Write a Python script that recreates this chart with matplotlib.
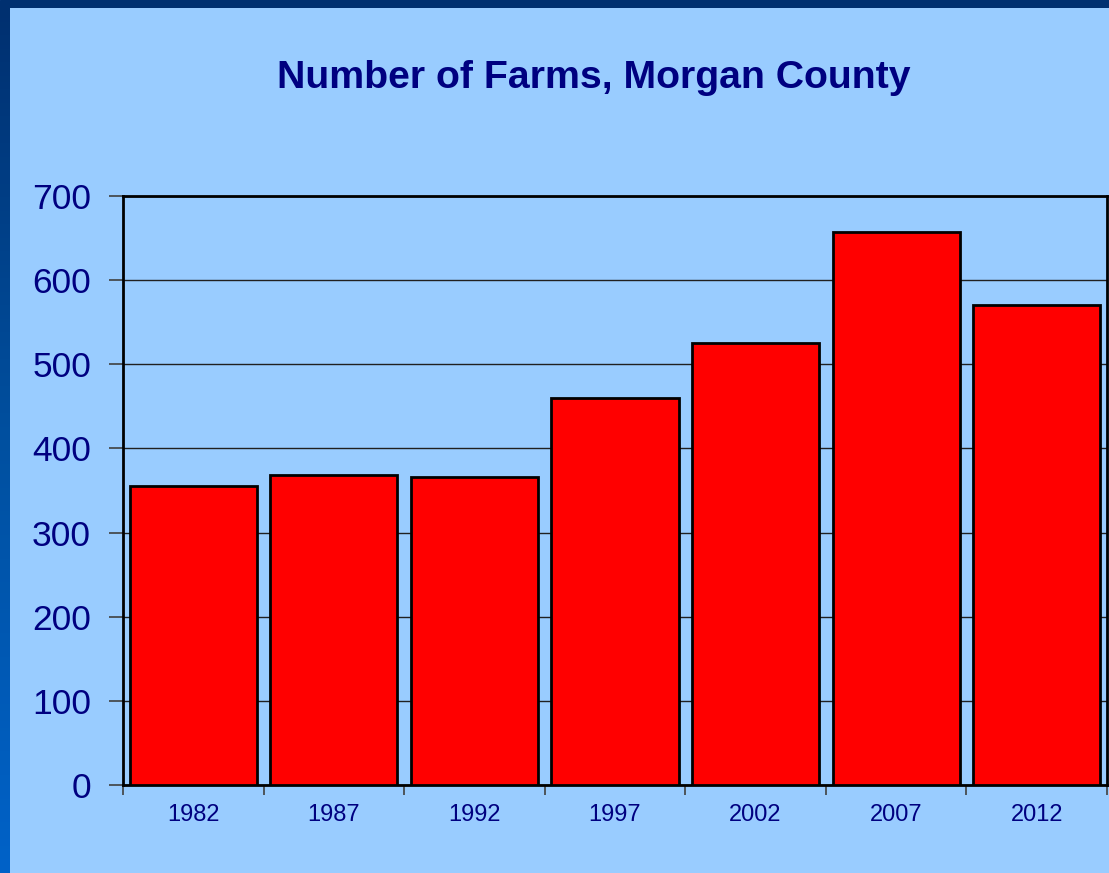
import matplotlib

matplotlib.use("Agg")
import matplotlib.pyplot as plt
import numpy as np
from matplotlib.colors import LinearSegmentedColormap

plt.rcParams["font.family"] = ["Liberation Sans", "DejaVu Sans"]

years = ["1982", "1987", "1992", "1997", "2002", "2007", "2012"]
farms = [355, 368, 366, 460, 525, 657, 571]
y_ticks = [0, 100, 200, 300, 400, 500, 600, 700]

W, H = 1109, 873
BG = "#99CCFF"
NAVY = "#000080"

fig = plt.figure(figsize=(W / 100, H / 100), dpi=100, facecolor=BG)

# slide-style frame: dark top strip, gradient strip down the left
top = fig.add_axes([0, 1 - 8 / H, 1, 8 / H])
top.set_axis_off()
top.add_patch(plt.Rectangle((0, 0), 1, 1, color="#003070", transform=top.transAxes))
left = fig.add_axes([0, 0, 10 / W, 1 - 8 / H])
left.set_axis_off()
cmap = LinearSegmentedColormap.from_list("frame", ["#003070", "#0050A0", "#0062C8"])
left.imshow(np.linspace(0, 1, 256).reshape(-1, 1), aspect="auto", cmap=cmap,
            extent=(0, 1, 0, 1), origin="upper")

ax = fig.add_axes([123 / W, 1 - 785 / H, (1107 - 123) / W, (785 - 196) / H])
ax.set_facecolor(BG)
x = np.arange(len(years))
ax.bar(x, farms, width=0.905, color="#FF0000", edgecolor="black", linewidth=2, zorder=3)

ax.set_xlim(-0.5, len(years) - 0.5)
ax.set_ylim(0, 700)
ax.set_yticks(y_ticks)
ax.set_yticklabels([str(v) for v in y_ticks], fontsize=25.5, color=NAVY)
ax.set_xticks(x)
ax.set_xticklabels(years, fontsize=17, color=NAVY)
ax.tick_params(axis="x", length=0, pad=14)
ax.tick_params(axis="y", length=10, width=1.2, color="#404040", pad=13)
ax.set_xticks(np.arange(len(years) + 1) - 0.5, minor=True)
ax.tick_params(axis="x", which="minor", length=7, width=1.2, color="#404040")
ax.yaxis.grid(True, color="#202020", linewidth=1, zorder=0)
ax.set_axisbelow(True)
for side in ["top", "right", "left", "bottom"]:
    ax.spines[side].set_linewidth(2)
    ax.spines[side].set_color("black")

fig.text(594 / W, 1 - 78 / H, "Number of Farms, Morgan County", ha="center", va="center",
         fontsize=28.3, fontweight="bold", color=NAVY)

fig.savefig("out.png", dpi=100, facecolor=BG)
